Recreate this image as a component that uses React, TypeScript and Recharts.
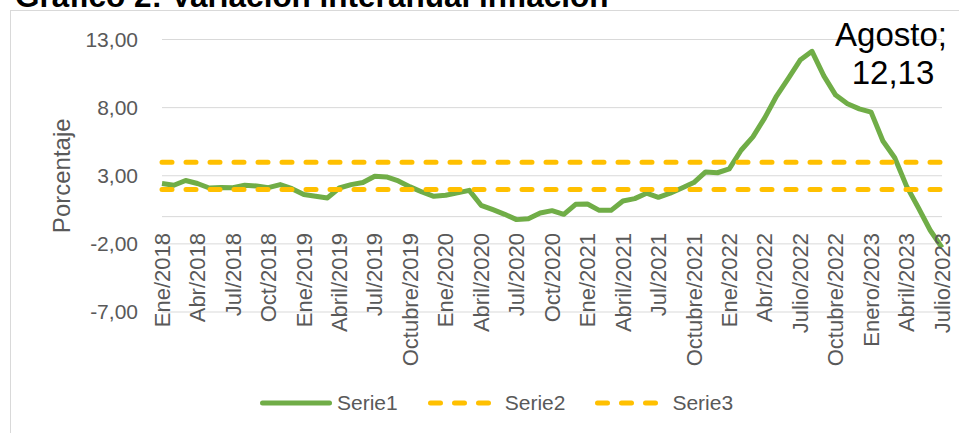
import React from 'react';
import { CartesianGrid, LabelList, Legend, Line, LineChart, ReferenceLine, XAxis, YAxis } from 'recharts';

// meses (solo se ve uno de cada tres en el eje)
const months = [
  'Ene/2018', 'Feb/2018', 'Mar/2018', 'Abr/2018', 'May/2018', 'Jun/2018',
  'Jul/2018', 'Ago/2018', 'Set/2018', 'Oct/2018', 'Nov/2018', 'Dic/2018',
  'Ene/2019', 'Feb/2019', 'Mar/2019', 'Abril/2019', 'Mayo/2019', 'Junio/2019',
  'Jul/2019', 'Agosto/2019', 'Setiembre/2019', 'Octubre/2019', 'Noviembre/2019', 'Diciembre/2019',
  'Ene/2020', 'Feb/2020', 'Mar/2020', 'Abril/2020', 'May/2020', 'Jun/2020',
  'Jul/2020', 'Ago/2020', 'Set/2020', 'Oct/2020', 'Nov/2020', 'Dic/2020',
  'Ene/2021', 'Feb/2021', 'Mar/2021', 'Abril/2021', 'May/2021', 'Jun/2021',
  'Jul/2021', 'Ago/2021', 'Set/2021', 'Octubre/2021', 'Nov/2021', 'Dic/2021',
  'Ene/2022', 'Feb/2022', 'Mar/2022', 'Abr/2022', 'May/2022', 'Jun/2022',
  'Julio/2022', 'Agosto/2022', 'Set/2022', 'Octubre/2022', 'Nov/2022', 'Dic/2022',
  'Enero/2023', 'Feb/2023', 'Mar/2023', 'Abril/2023', 'Mayo/2023', 'Junio/2023',
  'Julio/2023',
];

// variación interanual
const serie1 = [
  2.43, 2.30, 2.65, 2.43, 2.10, 2.13, 2.12, 2.30, 2.25, 2.13, 2.35, 2.05,
  1.62, 1.49, 1.37, 2.10, 2.35, 2.50, 2.96, 2.91, 2.62, 2.18, 1.81, 1.49,
  1.57, 1.74, 1.93, 0.83, 0.51, 0.17, -0.22, -0.15, 0.27, 0.44, 0.17, 0.90,
  0.93, 0.46, 0.46, 1.15, 1.32, 1.72, 1.42, 1.72, 2.10, 2.50, 3.28, 3.22,
  3.50, 4.87, 5.85, 7.25, 8.85, 10.15, 11.49, 12.13, 10.33, 8.92, 8.28, 7.91,
  7.67, 5.55, 4.32, 2.24, 0.65, -1.00, -2.28,
];

// límite superior del rango meta
const serie2 = [
  4, 4, 4, 4, 4, 4, 4, 4, 4, 4, 4, 4,
  4, 4, 4, 4, 4, 4, 4, 4, 4, 4, 4, 4,
  4, 4, 4, 4, 4, 4, 4, 4, 4, 4, 4, 4,
  4, 4, 4, 4, 4, 4, 4, 4, 4, 4, 4, 4,
  4, 4, 4, 4, 4, 4, 4, 4, 4, 4, 4, 4,
  4, 4, 4, 4, 4, 4, 4,
];

// límite inferior del rango meta
const serie3 = [
  2, 2, 2, 2, 2, 2, 2, 2, 2, 2, 2, 2,
  2, 2, 2, 2, 2, 2, 2, 2, 2, 2, 2, 2,
  2, 2, 2, 2, 2, 2, 2, 2, 2, 2, 2, 2,
  2, 2, 2, 2, 2, 2, 2, 2, 2, 2, 2, 2,
  2, 2, 2, 2, 2, 2, 2, 2, 2, 2, 2, 2,
  2, 2, 2, 2, 2, 2, 2,
];

const yTicks = [-7, -2, 3, 8, 13];
const peakIndex = 55;
const peakName = 'Agosto';

const GREEN = '#70AD47';
const YELLOW = '#FFC000';
const GREY = '#595959';
const FONT = '"Liberation Sans", Arial, sans-serif';

const legendItems = [
  { key: 'serie1', name: 'Serie1', color: GREEN, dash: undefined },
  { key: 'serie2', name: 'Serie2', color: YELLOW, dash: '10 14' },
  { key: 'serie3', name: 'Serie3', color: YELLOW, dash: '10 14' },
];

const data = months.map((m, i) => ({
  month: m,
  serie1: serie1[i],
  serie2: serie2[i],
  serie3: serie3[i],
}));

const fmt = (v: number) => v.toFixed(2).replace('.', ',');

const MonthTick = (props: any) => {
  const { x, y, payload } = props;
  const ty = y - 79;
  return (
    <text
      x={x}
      y={ty}
      dy='0.35em'
      transform={`rotate(-90, ${x}, ${ty})`}
      textAnchor='end'
      fill={GREY}
      fontSize={22}
      fontFamily={FONT}
    >
      {payload.value}
    </text>
  );
};

const AxisTitle = (props: any) => {
  const vb = props.viewBox || { x: 0, y: 0, width: 0, height: 0 };
  const cx = vb.x + 62;
  const cy = vb.y + vb.height / 2;
  return (
    <text
      x={cx}
      y={cy}
      dy='0.35em'
      transform={`rotate(-90, ${cx}, ${cy})`}
      textAnchor='middle'
      fill={GREY}
      fontSize={24}
      fontFamily={FONT}
    >
      Porcentaje
    </text>
  );
};

const PeakLabel = (props: any) => {
  const { x, y, index, value } = props;
  if (index !== peakIndex) return null;
  return (
    <text textAnchor='middle' fontSize={33} fill='#000' fontFamily={FONT}>
      <tspan x={x + 79} y={y - 5}>{peakName};</tspan>
      <tspan x={x + 81} y={y + 33}>{fmt(Number(value))}</tspan>
    </text>
  );
};

const renderLegend = () => (
  <div style={{ height: 30, display: 'flex', alignItems: 'center', paddingLeft: 260 }}>
    {legendItems.map(item => (
      <div key={item.key} style={{ display: 'flex', alignItems: 'center', marginRight: 30 }}>
        <svg width={72} height={10}>
          <line
            x1={2.5}
            y1={5}
            x2={69.5}
            y2={5}
            stroke={item.color}
            strokeWidth={5}
            strokeLinecap='round'
            strokeDasharray={item.dash}
          />
        </svg>
        <span style={{ marginLeft: 5, fontSize: 21, color: GREY, fontFamily: FONT, lineHeight: '30px' }}>
          {item.name}
        </span>
      </div>
    ))}
  </div>
);

export default function App() {
  return (
    <div
      style={{
        position: 'absolute',
        left: 0,
        top: 0,
        width: 959,
        height: 433,
        overflow: 'hidden',
        background: '#fff',
        fontFamily: FONT,
      }}
    >
      <div
        style={{
          position: 'absolute',
          left: 15,
          top: -20,
          fontSize: 31.5,
          lineHeight: '32px',
          fontWeight: 'bold',
          color: '#000',
          whiteSpace: 'nowrap',
        }}
      >
        Gráfico 2: Variación interanual inflación
      </div>
      <div
        style={{
          position: 'absolute',
          left: 10,
          top: 10,
          width: 1000,
          height: 500,
          border: '1px solid #d9d9d9',
        }}
      />
      <div style={{ position: 'absolute', left: 0, top: 0 }}>
        <LineChart
          width={959}
          height={433}
          data={data}
          margin={{ top: 39.5, right: 17, bottom: 15, left: 0 }}
        >
          <CartesianGrid stroke='#d9d9d9' vertical={false} />
          <ReferenceLine y={0} stroke='#d9d9d9' />
          <XAxis
            dataKey='month'
            interval={2}
            height={76}
            axisLine={false}
            tickLine={false}
            tickSize={0}
            tickMargin={0}
            tick={<MonthTick />}
          />
          <YAxis
            width={162}
            domain={[-7, 13]}
            ticks={yTicks}
            axisLine={false}
            tickLine={false}
            tickSize={0}
            tickMargin={24}
            tickFormatter={fmt}
            tick={{ fill: GREY, fontSize: 21, fontFamily: FONT }}
            label={<AxisTitle />}
          />
          <Legend content={renderLegend} wrapperStyle={{ left: 0, width: 959 }} />
          <Line
            dataKey='serie1'
            name='Serie1'
            stroke={GREEN}
            strokeWidth={5}
            strokeLinejoin='round'
            dot={false}
            isAnimationActive={false}
          >
            <LabelList dataKey='serie1' content={<PeakLabel />} />
          </Line>
          <Line
            dataKey='serie2'
            name='Serie2'
            stroke={YELLOW}
            strokeWidth={5}
            strokeLinecap='round'
            strokeDasharray='10 14'
            dot={false}
            isAnimationActive={false}
          />
          <Line
            dataKey='serie3'
            name='Serie3'
            stroke={YELLOW}
            strokeWidth={5}
            strokeLinecap='round'
            strokeDasharray='10 14'
            dot={false}
            isAnimationActive={false}
          />
        </LineChart>
      </div>
    </div>
  );
}
